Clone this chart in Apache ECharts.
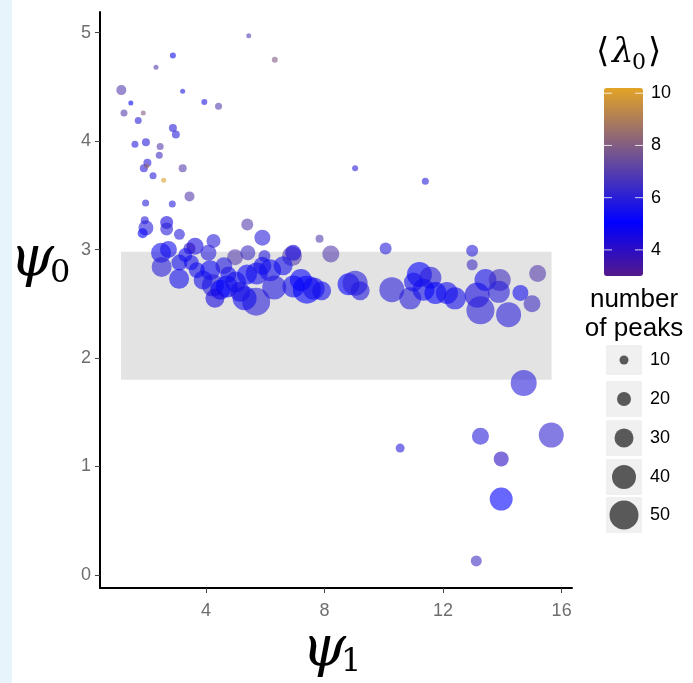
<!DOCTYPE html>
<html>
<head>
<meta charset="utf-8">
<script src="https://cdn.jsdelivr.net/npm/echarts@6/dist/echarts.min.js"></script>
<style>
  html, body { margin: 0; padding: 0; background: #fff; }
  #chart { width: 693px; height: 683px; }
</style>
</head>
<body>
<div id="chart"></div>
<script>
// psi1 (x), psi0 (y), mean lambda0 (colour) and number of peaks (size) per fit
const psi1 = [
  5.44, 6.32, 2.88, 2.31, 1.14, 1.46, 1.23, 1.88, 3.21, 3.94, 4.42, 1.71, 2.88, 2.98,
  1.97, 1.60, 2.45, 2.42, 2.02, 1.90, 2.00, 3.21, 2.21, 2.57, 3.44, 1.96, 2.86, 5.39,
  1.93, 1.97, 1.86, 2.67, 2.67, 3.10, 5.90, 7.83, 4.25, 9.03, 11.40,
  3.63, 3.44, 2.48, 2.73, 2.50, 3.10, 3.09, 4.08, 3.69, 4.14, 4.23, 4.70, 4.75, 4.98,
  5.41, 5.38, 5.15, 5.71, 5.69, 5.97, 6.16, 6.90, 6.94, 6.95, 7.40, 7.63, 8.21, 8.81,
  9.03, 10.06, 10.27, 10.89, 11.20, 11.57, 11.34, 11.74, 12.13, 12.98, 12.98, 13.15,
  13.43, 13.91, 13.88, 13.26, 14.21, 14.61, 15.00, 15.19, 4.48,
  3.30, 3.90, 4.60, 5.00, 5.30, 6.30, 6.60, 7.20, 5.90, 4.30, 3.50, 7.90, 9.20, 12.40, 11.00,
  14.72, 13.26, 15.65, 10.55, 13.96, 13.96, 13.12
];
const psi0 = [
  4.97, 4.75, 4.79, 4.68, 4.47, 4.35, 4.26, 4.26, 4.46, 4.36, 4.32, 4.19, 4.12, 4.06,
  3.99, 3.97, 3.95, 3.87, 3.80, 3.75, 3.77, 3.75, 3.68, 3.64, 3.49, 3.43, 3.42, 3.23,
  3.27, 3.20, 3.15, 3.25, 3.19, 3.14, 3.11, 3.10, 3.08, 3.75, 3.63,
  3.03, 3.01, 2.97, 3.00, 2.84, 2.88, 2.73, 2.97, 2.81, 2.81, 2.67, 2.66, 2.77, 2.93,
  2.97, 2.77, 2.61, 2.78, 2.52, 2.94, 2.81, 2.94, 2.97, 2.66, 2.63, 2.64, 2.96, 2.68,
  2.69, 3.01, 2.63, 2.55, 2.77, 2.74, 2.63, 2.60, 2.60, 2.99, 2.86, 2.58,
  2.72, 2.72, 2.61, 2.44, 2.40, 2.60, 2.50, 2.78, 2.63,
  2.95, 2.72, 2.85, 2.70, 2.55, 2.65, 2.85, 2.72, 2.85, 2.55, 2.88, 2.62, 2.62, 2.55, 2.70,
  1.77, 1.28, 1.29, 1.17, 1.07, 0.70, 0.13
];
const lambda0 = [
  7.0, 8.0, 5.5, 7.0, 7.0, 5.0, 7.0, 8.0, 5.8, 5.8, 7.0, 6.0, 6.0, 6.0,
  6.0, 6.0, 7.0, 6.5, 6.0, 6.0, 8.5, 7.0, 6.0, 10.0, 7.0, 6.0, 6.0, 7.0,
  6.0, 6.0, 5.0, 4.5, 6.0, 6.0, 6.0, 7.0, 6.0, 6.0, 6.0,
  4.5, 4.0, 5.5, 5.5, 6.0, 5.5, 5.5, 6.0, 5.5, 5.3, 6.0, 5.2, 5.5, 7.0,
  6.5, 5.2, 4.5, 5.5, 6.0, 6.0, 5.5, 7.0, 4.5, 5.5, 5.0, 5.5, 7.0, 5.0,
  6.0, 6.0, 6.0, 6.0, 5.0, 6.0, 5.5, 5.0, 5.5, 6.0, 6.5, 4.5,
  5.5, 6.5, 6.0, 6.0, 6.0, 5.5, 6.5, 7.0, 5.0,
  5.5, 5.5, 5.8, 5.5, 5.5, 5.8, 5.5, 5.2, 5.5, 4.5, 5.5, 5.5, 5.8, 5.5, 5.5,
  6.0, 6.0, 6.2, 6.0, 4.0, 5.0, 6.5
];
const peaks = [
  2, 4, 4, 2, 12, 2, 6, 2, 2, 4, 6, 6, 8, 8,
  8, 6, 6, 6, 8, 8, 2, 8, 6, 2, 12, 6, 6, 16,
  8, 22, 12, 18, 18, 14, 24, 8, 20, 4, 6,
  26, 16, 32, 26, 32, 24, 32, 24, 24, 32, 36, 36, 24, 24,
  22, 32, 32, 36, 48, 16, 36, 32, 24, 36, 48, 36, 26, 36,
  42, 16, 42, 36, 42, 36, 36, 36, 36, 16, 14, 42,
  36, 36, 36, 48, 42, 24, 26, 26, 32,
  20, 30, 26, 34, 40, 40, 30, 36, 28, 30, 22, 30, 30, 36, 30,
  44, 26, 42, 10, 22, 38, 14
];

// axis ticks and legend keys
const xTicks = [4, 8, 12, 16];
const yTicks = [0, 1, 2, 3, 4, 5];
const colourTicks = [10, 8, 6, 4];
const sizeKeys = [10, 20, 30, 40, 50];

// shaded band of typical psi0 values
const bandX = [1.13, 15.66];
const bandY = [1.80, 2.98];

const points = psi1.map((x, i) => [x, psi0[i], lambda0[i], peaks[i]]);
const diameter = n => 4 + 0.5 * n;

const lamMin = 3.0, lamMax = 10.2;
const barLeft = 604, barTop = 88, barW = 39, barH = 188;
const barY = v => barTop + (lamMax - v) / (lamMax - lamMin) * barH;

const graphics = [
  { type: 'rect', left: 0, top: 0, shape: { width: 12, height: 683 }, style: { fill: '#e8f4fb' }, silent: true },
  // axis titles
  { type: 'text', left: 10, top: 232, style: { text: 'ψ', font: 'italic 56px "DejaVu Serif"', fill: '#000' } },
  { type: 'text', left: 50, top: 258, style: { text: '0', font: '32px "DejaVu Serif"', fill: '#000' } },
  { type: 'text', left: 302, top: 622, style: { text: 'ψ', font: 'italic 56px "DejaVu Serif"', fill: '#000' } },
  { type: 'text', left: 341, top: 647, style: { text: '1', font: '32px "DejaVu Serif"', fill: '#000' } },
  // colour legend title
  { type: 'text', left: 596, top: 36, style: { text: '⟨', font: '34px "DejaVu Serif"', fill: '#000' } },
  { type: 'text', left: 612, top: 36, style: { text: 'λ', font: 'italic 34px "DejaVu Serif"', fill: '#000' } },
  { type: 'text', left: 632, top: 52, style: { text: '0', font: '22px "DejaVu Serif"', fill: '#000' } },
  { type: 'text', left: 648, top: 36, style: { text: '⟩', font: '34px "DejaVu Serif"', fill: '#000' } },
  // size legend title
  { type: 'text', x: 634, y: 300, style: { text: 'number', font: '26px "Liberation Sans"', fill: '#000', textAlign: 'center', textVerticalAlign: 'middle' } },
  { type: 'text', x: 634, y: 329, style: { text: 'of peaks', font: '26px "Liberation Sans"', fill: '#000', textAlign: 'center', textVerticalAlign: 'middle' } }
];

colourTicks.forEach(v => {
  const y = barY(v);
  graphics.push({ type: 'line', shape: { x1: barLeft, y1: y, x2: barLeft + 8, y2: y }, style: { stroke: '#fff', lineWidth: 1, opacity: 0.8 }, z: 100 });
  graphics.push({ type: 'line', shape: { x1: barLeft + barW - 8, y1: y, x2: barLeft + barW, y2: y }, style: { stroke: '#fff', lineWidth: 1, opacity: 0.8 }, z: 100 });
  graphics.push({ type: 'text', x: 651, y: y, style: { text: String(v), font: '18px "Liberation Sans"', fill: '#000', textVerticalAlign: 'middle' } });
});

const keyCentres = [360, 399, 438, 477, 515];
sizeKeys.forEach((n, i) => {
  const cy = keyCentres[i];
  const h = i === 0 ? 30 : 36;
  graphics.push({ type: 'rect', shape: { x: 606, y: cy - h / 2, width: 36, height: h }, style: { fill: '#f0f0f0' } });
  graphics.push({ type: 'circle', shape: { cx: 624, cy: cy, r: diameter(n) / 2 }, style: { fill: '#595959' } });
  graphics.push({ type: 'text', x: 650, y: cy, style: { text: String(n), font: '18px "Liberation Sans"', fill: '#000', textVerticalAlign: 'middle' } });
});

const chart = echarts.init(document.getElementById('chart'), null, { renderer: 'canvas' });
chart.setOption({
  animation: false,
  backgroundColor: '#fff',
  grid: { left: 100, right: 121, top: 12, bottom: 95, containLabel: false },
  xAxis: {
    type: 'value', min: 0.42, max: 16.35,
    splitLine: { show: false },
    axisLine: { show: true, onZero: false, lineStyle: { color: '#000', width: 2 } },
    axisTick: { show: true, customValues: xTicks, length: 5, lineStyle: { color: '#444', width: 1 } },
    axisLabel: { customValues: xTicks, color: '#6e6e6e', fontSize: 18, fontFamily: 'Liberation Sans', margin: 14 }
  },
  yAxis: {
    type: 'value', min: -0.12, max: 5.19,
    splitLine: { show: false },
    axisLine: { show: true, onZero: false, lineStyle: { color: '#000', width: 2 } },
    axisTick: { show: true, customValues: yTicks, length: 5, lineStyle: { color: '#444', width: 1 } },
    axisLabel: { customValues: yTicks, color: '#6e6e6e', fontSize: 18, fontFamily: 'Liberation Sans', margin: 9 }
  },
  visualMap: {
    type: 'continuous', min: lamMin, max: lamMax, dimension: 2, seriesIndex: 1,
    left: barLeft, top: barTop, itemWidth: barW, itemHeight: barH,
    calculable: false, padding: 0, hoverLink: false,
    inRange: { color: ['#551a8b', '#2a0dc5', '#0000ff', '#2d21d4', '#5b42a8', '#88627d', '#b68351', '#e3a426'] }
  },
  series: [
    {
      type: 'scatter', data: [], z: 1, silent: true,
      markArea: {
        silent: true,
        itemStyle: { color: '#e3e3e3' },
        data: [[{ xAxis: bandX[0], yAxis: bandY[0] }, { xAxis: bandX[1], yAxis: bandY[1] }]]
      }
    },
    {
      type: 'scatter', z: 2, data: points,
      symbol: 'circle',
      symbolSize: d => diameter(d[3]),
      itemStyle: { opacity: 0.6 }
    }
  ],
  graphic: graphics
});
</script>
</body>
</html>
